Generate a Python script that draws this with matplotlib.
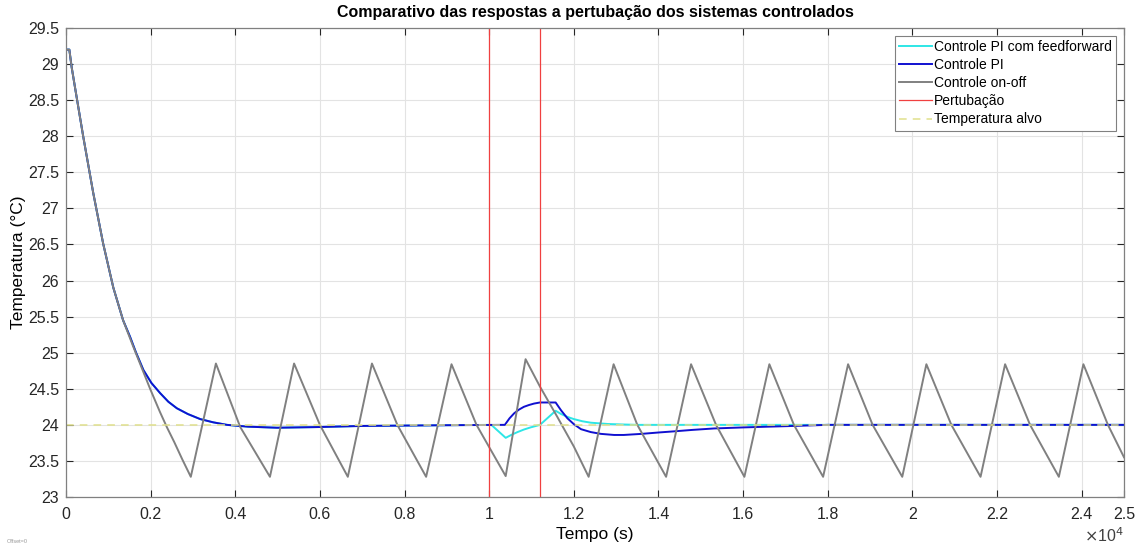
import matplotlib
matplotlib.use("Agg")
import matplotlib.pyplot as plt
from matplotlib.ticker import FuncFormatter, FixedLocator

plt.rcParams['font.family'] = ['Liberation Sans', 'DejaVu Sans']

# ---------------- data (time in seconds, temperature in °C) ----------------
onoff_t = [0, 80, 134, 213, 410, 646, 880, 1120, 1350, 1593, 1988, 2220, 2383, 2560, 2750, 2950,
           3543, 4118, 4820,
           5390, 6000, 6660,
           7230, 7830, 8510,
           9110, 9700, 10390,
           10860, 11200, 11610, 12000, 12350,
           12940, 13500, 14180,
           14770, 15360, 16030,
           16620, 17200, 17890,
           18480, 19060, 19760,
           20330, 20920, 21610,
           22190, 22780, 23460,
           24040, 24620, 25000]
onoff_v = [29.2, 29.2, 28.96, 28.68, 27.99, 27.21, 26.51, 25.90, 25.45, 25.08, 24.50, 24.18, 23.97, 23.76, 23.52, 23.28,
           24.85, 23.97, 23.28,
           24.85, 24.0, 23.28,
           24.85, 24.0, 23.28,
           24.84, 24.0, 23.29,
           24.91, 24.53, 24.11, 23.70, 23.28,
           24.84, 24.0, 23.28,
           24.84, 24.0, 23.28,
           24.84, 24.0, 23.28,
           24.84, 24.0, 23.28,
           24.84, 24.0, 23.28,
           24.84, 24.0, 23.28,
           24.84, 24.0, 23.55]

pi_t = [0, 80, 134, 213, 410, 646, 880, 1120, 1350, 1515, 1650, 1830, 2020, 2225, 2420, 2620,
        2880, 3172, 3480, 3803, 4300, 4987, 6000, 7000, 8000, 9000, 10370, 10480, 10590,
        10700, 10820, 10940, 11060, 11200, 11570, 11700, 11850, 12000, 12170, 12400, 12640,
        12950, 13180, 13600, 14020, 14370, 14800, 15310, 16030, 16600, 17200, 18000, 25000]
pi_v = [29.2, 29.2, 28.96, 28.68, 27.99, 27.21, 26.51, 25.90, 25.45, 25.22, 25.01, 24.76, 24.58, 24.44, 24.32, 24.23,
        24.15, 24.08, 24.035, 24.0, 23.975, 23.96, 23.97, 23.985, 23.99, 23.995, 24.0, 24.09, 24.16,
        24.21, 24.25, 24.275, 24.295, 24.31, 24.31, 24.20, 24.09, 24.01, 23.94, 23.90, 23.875,
        23.86, 23.86, 23.875, 23.895, 23.91, 23.93, 23.95, 23.965, 23.975, 23.985, 24.0, 24.0]

ff_t = [0, 80, 134, 213, 410, 646, 880, 1120, 1350, 1515, 1650, 1830, 2020, 2225, 2420, 2620,
        2880, 3172, 3480, 3803, 4300, 4987, 6000, 7000, 8000, 9000, 10050, 10390, 10520,
        10670, 10820, 10980, 11200, 11570, 11700, 11850, 12000, 12200, 12400, 12800, 13180,
        13500, 25000]
ff_v = [29.2, 29.2, 28.96, 28.68, 27.99, 27.21, 26.51, 25.90, 25.45, 25.22, 25.01, 24.76, 24.58, 24.44, 24.32, 24.23,
        24.15, 24.08, 24.035, 24.0, 23.975, 23.96, 23.97, 23.985, 23.99, 23.995, 24.0, 23.82, 23.86,
        23.90, 23.935, 23.965, 24.0, 24.195, 24.15, 24.11, 24.08, 24.05, 24.03, 24.012, 24.005,
        24.0, 24.0]

disturb_t = [10000, 11200]
target_temp = 24.0
t_end = 25000

x_ticks = [0, 2000, 4000, 6000, 8000, 10000, 12000, 14000, 16000, 18000, 20000,
           22000, 24000, 25000]
y_ticks = [23, 23.5, 24, 24.5, 25, 25.5, 26, 26.5, 27, 27.5, 28, 28.5, 29, 29.5]

labels = ["Controle PI com feedforward", "Controle PI", "Controle on-off",
          "Pertubação", "Temperatura alvo"]

# ---------------- figure ----------------
fig = plt.figure(figsize=(11.43, 5.49), dpi=100)
ax = fig.add_axes([0.0577, 0.0947, 0.9257, 0.8543])

l1, = ax.plot(ff_t, ff_v, color='#2ee6e6', lw=1.4, label=labels[0])
l2, = ax.plot(pi_t, pi_v, color='#1010d0', lw=1.4, label=labels[1])
l3, = ax.plot(onoff_t, onoff_v, color='#808080', lw=1.4, label=labels[2])
red_lines = [ax.axvline(xd, color='#f04040', lw=0.9) for xd in disturb_t]
l4 = red_lines[0]
l5, = ax.plot([0, t_end], [target_temp, target_temp], color='#e0e08c', lw=1.1,
              ls=(0, (5, 4)), label=labels[4])

ax.set_xlim(0, t_end)
ax.set_ylim(23, 29.5)
ax.xaxis.set_major_locator(FixedLocator(x_ticks))
ax.yaxis.set_major_locator(FixedLocator(y_ticks))
ax.xaxis.set_major_formatter(FuncFormatter(lambda v, p: f"{v/1e4:g}"))
ax.yaxis.set_major_formatter(FuncFormatter(lambda v, p: f"{v:g}"))

ax.grid(True, color='#e3e3e3', lw=0.8)
ax.set_axisbelow(True)
ax.tick_params(direction='in', top=True, right=True, length=5, width=0.8,
               colors='#262626', labelsize=11.5)
ax.tick_params(axis='x', pad=7)
ax.tick_params(axis='y', pad=5)
for s in ax.spines.values():
    s.set_color('#808080')
    s.set_linewidth(0.9)

ax.set_title("Comparativo das respostas a pertubação dos sistemas controlados",
             fontsize=11.5, fontweight='bold', pad=8)
ax.set_xlabel("Tempo (s)", fontsize=12.5, labelpad=4)
ax.set_ylabel("Temperatura (°C)", fontsize=12.5, labelpad=1)

fig.text(0.983, 0.008, r"$\times$10$^{4}$", ha='right', va='bottom', fontsize=11.5,
         color='#404040')
fig.text(0.006, 0.01, "Offset=0", fontsize=4, color='#999999', ha='left', va='bottom')

leg = ax.legend(handles=[l1, l2, l3, l4, l5], labels=labels, loc='upper right', fontsize=10,
                frameon=True, fancybox=False, framealpha=1, edgecolor='#808080',
                borderpad=0.3, labelspacing=0.3, handlelength=2.4, handletextpad=0.15,
                borderaxespad=0.55)
leg.get_frame().set_linewidth(0.8)

fig.savefig("out.png", dpi=100)
